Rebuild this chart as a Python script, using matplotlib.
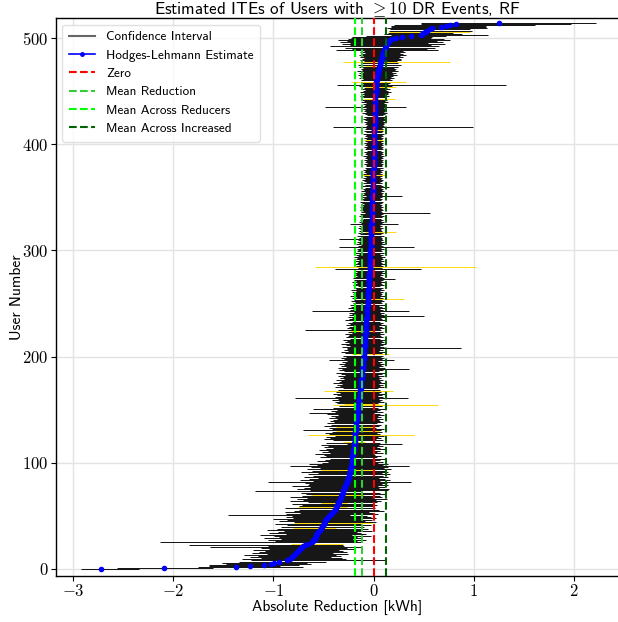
import numpy as np
import matplotlib
matplotlib.use("Agg")
import matplotlib.pyplot as plt
from matplotlib.lines import Line2D

plt.rcParams['font.family'] = ['cmss10', 'DejaVu Sans']
plt.rcParams['mathtext.fontset'] = 'cm'
plt.rcParams['axes.unicode_minus'] = False
plt.rcParams['axes.formatter.use_mathtext'] = True

# Hodges-Lehmann estimates (sorted), one per user
hl_est = [
    -2.72, -2.09, -1.37, -1.23, -1.09, -1.02, -0.99, -0.94, -0.86, -0.83,
    -0.82, -0.81, -0.80, -0.79, -0.78, -0.77, -0.76, -0.75, -0.74, -0.73,
    -0.72, -0.71, -0.70, -0.68, -0.65, -0.61, -0.60, -0.60, -0.59, -0.59,
    -0.58, -0.58, -0.58, -0.57, -0.57, -0.56, -0.55, -0.54, -0.53, -0.53,
    -0.52, -0.51, -0.50, -0.50, -0.49, -0.49, -0.48, -0.48, -0.47, -0.46,
    -0.45, -0.44, -0.43, -0.42, -0.41, -0.40, -0.39, -0.38, -0.38, -0.37,
    -0.37, -0.36, -0.36, -0.35, -0.35, -0.34, -0.34, -0.33, -0.33, -0.33,
    -0.32, -0.32, -0.31, -0.31, -0.31, -0.30, -0.30, -0.29, -0.29, -0.28,
    -0.28, -0.27, -0.27, -0.27, -0.26, -0.26, -0.26, -0.25, -0.25, -0.25,
    -0.24, -0.24, -0.24, -0.24, -0.23, -0.23, -0.23, -0.23, -0.22, -0.22,
    -0.220, -0.218, -0.217, -0.215, -0.214, -0.212, -0.211, -0.209, -0.208, -0.206,
    -0.205, -0.203, -0.202, -0.200, -0.199, -0.197, -0.196, -0.194, -0.193, -0.191,
    -0.190, -0.189, -0.188, -0.187, -0.186, -0.185, -0.184, -0.183, -0.182, -0.181,
    -0.180, -0.179, -0.178, -0.177, -0.176, -0.175, -0.174, -0.173, -0.172, -0.171,
    -0.170, -0.169, -0.168, -0.166, -0.165, -0.163, -0.162, -0.160, -0.159, -0.157,
    -0.156, -0.155, -0.153, -0.152, -0.150, -0.149, -0.148, -0.146, -0.145, -0.144,
    -0.143, -0.142, -0.140, -0.139, -0.138, -0.137, -0.135, -0.134, -0.133, -0.132,
    -0.130, -0.129, -0.128, -0.127, -0.125, -0.124, -0.123, -0.122, -0.121, -0.119,
    -0.118, -0.117, -0.116, -0.115, -0.114, -0.113, -0.112, -0.111, -0.110, -0.109,
    -0.108, -0.107, -0.106, -0.105, -0.104, -0.103, -0.102, -0.101, -0.100, -0.099,
    -0.098, -0.097, -0.096, -0.095, -0.095, -0.094, -0.093, -0.092, -0.091, -0.091,
    -0.090, -0.089, -0.088, -0.087, -0.087, -0.086, -0.085, -0.084, -0.083, -0.083,
    -0.082, -0.081, -0.080, -0.080, -0.079, -0.078, -0.077, -0.077, -0.076, -0.075,
    -0.074, -0.074, -0.073, -0.072, -0.071, -0.071, -0.070, -0.069, -0.068, -0.068,
    -0.067, -0.066, -0.065, -0.065, -0.064, -0.063, -0.062, -0.062, -0.061, -0.060,
    -0.059, -0.059, -0.058, -0.057, -0.057, -0.056, -0.055, -0.055, -0.054, -0.053,
    -0.053, -0.052, -0.051, -0.051, -0.050, -0.049, -0.049, -0.048, -0.047, -0.047,
    -0.046, -0.045, -0.045, -0.044, -0.043, -0.043, -0.042, -0.042, -0.041, -0.040,
    -0.040, -0.039, -0.039, -0.038, -0.038, -0.037, -0.037, -0.036, -0.036, -0.035,
    -0.035, -0.035, -0.034, -0.034, -0.033, -0.033, -0.032, -0.032, -0.032, -0.031,
    -0.031, -0.030, -0.030, -0.029, -0.029, -0.029, -0.028, -0.028, -0.027, -0.027,
    -0.027, -0.026, -0.026, -0.025, -0.025, -0.025, -0.024, -0.024, -0.023, -0.023,
    -0.023, -0.022, -0.022, -0.021, -0.021, -0.021, -0.020, -0.020, -0.020, -0.019,
    -0.019, -0.019, -0.018, -0.018, -0.018, -0.017, -0.017, -0.017, -0.016, -0.016,
    -0.016, -0.015, -0.015, -0.015, -0.014, -0.014, -0.013, -0.013, -0.013, -0.012,
    -0.012, -0.011, -0.011, -0.010, -0.010, -0.010, -0.009, -0.009, -0.008, -0.008,
    -0.008, -0.007, -0.007, -0.006, -0.006, -0.005, -0.005, -0.005, -0.004, -0.004,
    -0.003, -0.003, -0.003, -0.002, -0.002, -0.001, -0.001, -0.001, 0.000, 0.000,
    0.000, 0.001, 0.001, 0.001, 0.001, 0.002, 0.002, 0.002, 0.002, 0.003,
    0.003, 0.003, 0.003, 0.004, 0.004, 0.004, 0.004, 0.005, 0.005, 0.005,
    0.005, 0.006, 0.006, 0.006, 0.006, 0.007, 0.007, 0.007, 0.007, 0.008,
    0.008, 0.008, 0.008, 0.009, 0.009, 0.009, 0.009, 0.010, 0.010, 0.010,
    0.010, 0.011, 0.011, 0.011, 0.011, 0.012, 0.012, 0.012, 0.012, 0.013,
    0.013, 0.013, 0.013, 0.014, 0.014, 0.014, 0.015, 0.015, 0.015, 0.016,
    0.016, 0.016, 0.017, 0.017, 0.018, 0.018, 0.019, 0.019, 0.020, 0.020,
    0.021, 0.022, 0.022, 0.023, 0.024, 0.025, 0.026, 0.027, 0.028, 0.029,
    0.030, 0.032, 0.034, 0.036, 0.038, 0.040, 0.042, 0.044, 0.046, 0.048,
    0.050, 0.053, 0.056, 0.059, 0.062, 0.065, 0.068, 0.071, 0.074, 0.077,
    0.080, 0.083, 0.085, 0.088, 0.090, 0.093, 0.095, 0.098, 0.102, 0.106,
    0.110, 0.115, 0.120, 0.126, 0.132, 0.140, 0.148, 0.157, 0.167, 0.180,
    0.22, 0.28, 0.37, 0.47, 0.48, 0.49, 0.51, 0.53, 0.56, 0.58,
    0.67, 0.72, 0.76, 0.82, 1.25,
]

# distance from estimate down to the lower CI bound
ci_lo_dist = [
    0.20, 0.47, 0.38, 0.41, 0.55, 0.45, 0.52, 0.40, 0.36, 0.48, 0.30, 0.42, 0.35, 0.50, 0.28, 0.44, 0.38, 0.33, 0.46, 0.31,
    0.40, 0.92, 0.35, 1.16, 0.17, 1.52, 0.38, 0.45, 0.33, 0.50, 0.36, 0.41, 0.55, 0.30, 0.47, 0.39, 0.34, 0.52, 0.43, 0.27,
    0.40, 0.35, 0.48, 0.29, 0.30, 0.45, 0.38, 0.52, 0.33, 0.41, 0.36, 1.01, 0.44, 0.31, 0.47, 0.39, 0.35, 0.50, 0.37, 0.37,
    0.34, 0.45, 0.17, 0.30, 0.48, 0.36, 0.42, 0.33, 0.50, 0.38, 0.30, 0.35, 0.41, 0.87, 0.32, 0.46, 0.39, 0.34, 0.52, 0.37,
    0.36, 0.41, 0.78, 0.33, 0.47, 0.38, 0.30, 0.44, 0.35, 0.40, 0.32, 0.48, 0.37, 0.29, 0.43, 0.31, 0.39, 0.60, 0.35, 0.42,
    0.30, 0.24, 0.35, 0.27, 0.22, 0.32, 0.26, 0.29, 0.38, 0.23, 0.31, 0.25, 0.34, 0.28, 0.21, 0.30, 0.26, 0.33, 0.07, 0.28,
    0.12, 0.22, 0.31, 0.25, 0.29, 0.20, 0.47, 0.26, 0.30, 0.23, 0.20, 0.53, 0.24, 0.27, 0.20, 0.32, 0.25, 0.29, 0.22, 0.26,
    0.24, 0.20, 0.28, 0.22, 0.26, 0.19, 0.30, 0.48, 0.23, 0.27, 0.21, 0.45, 0.25, 0.19, 0.26, 0.15, 0.22, 0.24, 0.20, 0.27,
    0.21, 0.64, 0.25, 0.19, 0.23, 0.27, 0.20, 0.24, 0.36, 0.22, 0.18, 0.26, 0.21, 0.24, 0.19, 0.28, 0.22, 0.20, 0.25, 0.18,
    0.22, 0.19, 0.24, 0.17, 0.21, 0.26, 0.18, 0.23, 0.21, 0.25, 0.17, 0.22, 0.19, 0.24, 0.18, 0.21, 0.16, 0.34, 0.20, 0.23,
    0.18, 0.21, 0.12, 0.19, 0.23, 0.16, 0.20, 0.17, 0.17, 0.22, 0.15, 0.19, 0.24, 0.16, 0.20, 0.18, 0.22, 0.15, 0.19, 0.17,
    0.16, 0.20, 0.14, 0.18, 0.16, 0.61, 0.15, 0.19, 0.17, 0.13, 0.20, 0.16, 0.18, 0.14, 0.21, 0.17, 0.15, 0.19, 0.13, 0.18,
    0.15, 0.18, 0.13, 0.55, 0.17, 0.14, 0.19, 0.16, 0.12, 0.18, 0.15, 0.13, 0.17, 0.14, 0.07, 0.16, 0.12, 0.18, 0.14, 0.15,
    0.14, 0.16, 0.12, 0.17, 0.13, 0.15, 0.11, 0.16, 0.14, 0.12, 0.17, 0.13, 0.15, 0.01, 0.16, 0.14, 0.12, 0.15, 0.13, 0.16,
    0.13, 0.15, 0.35, 0.12, 0.55, 0.14, 0.11, 0.16, 0.13, 0.12, 0.15, 0.11, 0.14, 0.13, 0.16, 0.12, 0.14, 0.11, 0.15, 0.13,
    0.12, 0.14, 0.11, 0.32, 0.13, 0.10, 0.15, 0.12, 0.14, 0.11, 0.13, 0.32, 0.12, 0.10, 0.14, 0.11, 0.13, 0.06, 0.12, 0.10,
    0.11, 0.13, 0.10, 0.12, 0.09, 0.21, 0.11, 0.13, 0.10, 0.12, 0.09, 0.11, 0.13, 0.10, 0.12, 0.07, 0.11, 0.09, 0.12, 0.10,
    0.10, 0.12, 0.09, 0.11, 0.08, 0.10, 0.12, 0.09, 0.11, 0.08, 0.10, 0.06, 0.11, 0.09, 0.10, 0.08, 0.12, 0.09, 0.10, 0.08,
    0.03, 0.11, 0.08, 0.10, 0.07, 0.09, 0.11, 0.08, 0.10, 0.07, 0.09, 0.12, 0.10, 0.07, 0.09, 0.08, 0.10, 0.07, 0.09, 0.08,
    0.08, 0.10, 0.07, 0.09, 0.08, 0.10, 0.07, 0.09, 0.08, 0.11, 0.07, 0.09, 0.08, 0.10, 0.07, 0.09, 0.08, 0.10, 0.07, 0.09,
    0.08, 0.10, 0.07, 0.09, 0.10, 0.08, 0.10, 0.07, 0.09, 0.08, 0.11, 0.08, 0.10, 0.03, 0.09, 0.08, 0.41, 0.09, 0.08, 0.10,
    0.09, 0.11, 0.08, 0.10, 0.12, 0.09, 0.11, 0.08, 0.10, 0.13, 0.09, 0.11, 0.10, 0.12, 0.09, 0.50, 0.11, 0.10, 0.12, 0.09,
    0.14, 0.11, 0.13, 0.11, 0.12, 0.15, 0.11, 0.14, 0.12, 0.16, 0.13, 0.11, 0.15, 0.12, 0.11, 0.17, 0.39, 0.13, 0.15, 0.25,
    0.16, 0.14, 0.18, 0.15, 0.17, 0.20, 0.16, 0.19, 0.15, 0.21, 0.17, 0.18, 0.16, 0.20, 0.15, 0.22, 0.19, 0.38, 0.17, 0.21,
    0.20, 0.18, 0.22, 0.19, 0.24, 0.21, 0.18, 0.23, 0.20, 0.48, 0.33, 0.40, 0.56, 0.36, 0.45, 0.38, 0.48, 0.42, 0.52, 0.44,
    0.45, 0.50, 0.45, 0.30, 0.38, 0.35, 0.36, 0.38, 0.40, 0.45, 0.50, 0.55, 0.56, 0.35, 0.78,
]

# distance from estimate up to the upper CI bound
ci_hi_dist = [
    0.38, 0.49, 0.67, 0.30, 0.35, 0.40, 0.33, 0.46, 0.97, 0.55, 0.50, 0.38, 0.47, 0.41, 0.52, 0.36, 0.49, 0.44, 0.39, 0.53,
    0.45, 0.58, 0.40, 0.37, 0.34, 0.48, 0.43, 0.52, 0.38, 0.46, 0.41, 0.55, 0.36, 0.49, 0.44, 0.39, 0.53, 0.42, 0.47, 0.15,
    0.42, 0.48, 0.37, 0.48, 0.51, 0.40, 0.46, 0.35, 0.49, 0.43, 0.38, 0.20, 0.47, 0.41, 0.36, 0.50, 0.44, 0.39, 0.11, 0.37,
    0.40, 0.35, 0.09, 0.38, 0.42, 0.36, 0.47, 0.33, 0.41, 0.39, 0.22, 0.43, 0.37, 0.18, 0.45, 0.45, 0.35, 0.40, 0.33, 0.42,
    0.36, 0.40, 0.64, 0.33, 0.42, 0.37, 0.31, 0.39, 0.34, 0.41, 0.32, 0.38, 0.35, 0.24, 0.40, 0.33, 0.37, 0.58, 0.31, 0.36,
    0.26, 0.31, 0.23, 0.28, 0.34, 0.25, 0.29, 0.22, 0.21, 0.30, 0.24, 0.27, 0.21, 0.32, 0.26, 0.23, 0.29, 0.25, 0.48, 0.26,
    0.10, 0.28, 0.21, 0.26, 0.23, 0.29, 0.59, 0.25, 0.22, 0.27, 0.23, 0.25, 0.28, 0.20, 0.18, 0.23, 0.25, 0.21, 0.27, 0.24,
    0.22, 0.26, 0.20, 0.24, 0.21, 0.27, 0.23, 0.16, 0.25, 0.19, 0.22, 0.28, 0.20, 0.24, 0.79, 0.20, 0.19, 0.25, 0.21, 0.23,
    0.20, 0.49, 0.23, 0.18, 0.22, 0.25, 0.19, 0.21, 0.33, 0.20, 0.17, 0.23, 0.19, 0.22, 0.18, 0.24, 0.20, 0.19, 0.22, 0.17,
    0.19, 0.17, 0.22, 0.16, 0.20, 0.23, 0.17, 0.21, 0.46, 0.22, 0.16, 0.20, 0.18, 0.21, 0.17, 0.19, 0.15, 0.31, 0.18, 0.20,
    0.17, 0.19, 0.25, 0.18, 0.21, 0.15, 0.19, 0.16, 0.96, 0.20, 0.15, 0.18, 0.21, 0.16, 0.19, 0.17, 0.20, 0.15, 0.18, 0.16,
    0.15, 0.19, 0.14, 0.17, 0.08, 0.15, 0.14, 0.18, 0.16, 0.13, 0.19, 0.15, 0.17, 0.14, 0.20, 0.16, 0.14, 0.18, 0.57, 0.17,
    0.14, 0.17, 0.13, 0.42, 0.16, 0.13, 0.18, 0.15, 0.12, 0.17, 0.14, 0.13, 0.16, 0.14, 0.36, 0.15, 0.12, 0.17, 0.13, 0.14,
    0.13, 0.15, 0.12, 0.16, 0.12, 0.14, 0.11, 0.15, 0.13, 0.12, 0.16, 0.12, 0.14, 0.26, 0.15, 0.13, 0.11, 0.14, 0.12, 0.15,
    0.12, 0.14, 0.51, 0.12, 1.06, 0.13, 0.11, 0.15, 0.12, 0.11, 0.14, 0.11, 0.13, 0.12, 0.15, 0.11, 0.13, 0.10, 0.14, 0.12,
    0.11, 0.13, 0.10, 0.43, 0.12, 0.10, 0.14, 0.11, 0.13, 0.10, 0.12, 0.11, 0.11, 0.10, 0.13, 0.10, 0.12, 0.25, 0.11, 0.10,
    0.10, 0.12, 0.09, 0.11, 0.09, 0.27, 0.10, 0.12, 0.09, 0.11, 0.09, 0.10, 0.12, 0.09, 0.11, 0.58, 0.10, 0.09, 0.11, 0.10,
    0.09, 0.11, 0.09, 0.10, 0.08, 0.10, 0.11, 0.09, 0.10, 0.08, 0.10, 0.30, 0.10, 0.09, 0.10, 0.08, 0.11, 0.09, 0.10, 0.08,
    0.16, 0.10, 0.08, 0.09, 0.07, 0.09, 0.10, 0.08, 0.09, 0.07, 0.09, 0.13, 0.09, 0.07, 0.09, 0.08, 0.10, 0.07, 0.09, 0.08,
    0.08, 0.09, 0.07, 0.09, 0.08, 0.09, 0.07, 0.09, 0.08, 0.10, 0.07, 0.09, 0.08, 0.09, 0.07, 0.09, 0.08, 0.09, 0.07, 0.09,
    0.08, 0.09, 0.07, 0.09, 0.09, 0.08, 0.09, 0.07, 0.09, 0.08, 0.10, 0.08, 0.09, 0.09, 0.09, 0.08, 0.98, 0.09, 0.08, 0.09,
    0.09, 0.10, 0.08, 0.10, 0.11, 0.09, 0.10, 0.08, 0.10, 0.12, 0.09, 0.11, 0.10, 0.11, 0.09, 0.31, 0.10, 0.10, 0.11, 0.09,
    0.13, 0.10, 0.12, 0.20, 0.11, 0.14, 0.10, 0.13, 0.12, 0.15, 0.12, 0.10, 0.14, 0.11, 0.20, 0.16, 1.30, 0.12, 0.14, 0.30,
    0.15, 0.13, 0.17, 0.14, 0.16, 0.19, 0.15, 0.18, 0.14, 0.20, 0.16, 0.17, 0.15, 0.19, 0.03, 0.21, 0.18, 0.69, 0.16, 0.20,
    0.19, 0.17, 0.21, 0.18, 0.23, 0.20, 0.17, 0.22, 0.19, 0.54, 0.42, 0.50, 0.53, 0.45, 0.58, 0.40, 0.55, 0.48, 0.60, 0.52,
    0.35, 0.30, 0.35, 0.67, 0.40, 0.30, 0.45, 0.45, 0.40, 0.55, 0.45, 0.40, 0.85, 1.15, 0.97,
]

# users whose interval is highlighted in gold
gold_users = [24, 39, 43, 58, 62, 70, 93, 120, 126, 130, 134, 154, 155, 168, 202,
              224, 254, 284, 317, 371, 404, 413, 443, 454, 459, 474, 477, 506]

mean_reduction = -0.116
mean_reducers = -0.183
mean_increased = 0.123

xticks = [-3, -2, -1, 0, 1, 2]
yticks = [0, 100, 200, 300, 400, 500]

hl = np.array(hl_est)
n = len(hl)
lo = hl - np.array(ci_lo_dist[:n])
hi = hl + np.array(ci_hi_dist[:n])
users = np.arange(n)
colors = ['black'] * n
for u in gold_users:
    colors[u] = 'gold'

W, H = 618, 622
fig = plt.figure(figsize=(W / 100, H / 100), dpi=100)
ax_left, ax_bottom_px, ax_top_px = 55.7, 576, 18
ax = fig.add_axes([ax_left / W, 1 - ax_bottom_px / H, 1 - ax_left / W + 0.002,
                   (ax_bottom_px - ax_top_px) / H])

ax.grid(True, color='#e3e3e3', linewidth=1.0, zorder=0)
ax.set_axisbelow(True)

ax.hlines(users, lo, hi, colors=colors, linewidth=0.65, zorder=2)
ax.plot(hl, users, linestyle='none', marker='.', color='blue', markersize=6, zorder=3)

ax.axvline(0, color='red', linestyle='--', linewidth=1.5, zorder=4)
ax.axvline(mean_reduction, color='limegreen', linestyle='--', linewidth=1.5, zorder=4)
ax.axvline(mean_reducers, color='lime', linestyle='--', linewidth=1.5, zorder=4)
ax.axvline(mean_increased, color='darkgreen', linestyle='--', linewidth=1.5, zorder=4)

ax.set_xlim(-3.176, 2.455)
ax.set_ylim(-6.6, 518.8)
ax.set_xticks(xticks)
ax.set_xticklabels([f'$-{abs(t)}$' if t < 0 else f'${t}$' for t in xticks], fontsize=12)
ax.set_yticks(yticks)
ax.set_yticklabels([f'${t}$' for t in yticks], fontsize=12)
ax.tick_params(direction='out', length=3.5, width=0.8, color='black', pad=1.5)

for s in ['left', 'bottom', 'top']:
    ax.spines[s].set_color('black')
    ax.spines[s].set_linewidth(1.0)
ax.spines['right'].set_visible(False)

fig.text((ax_left + W) / 2 / W, 1 - 9.5 / H,
         r'Estimated ITEs of Users with $\geq 10$ DR Events, RF',
         fontsize=12.3, ha='center', va='center')
ax.set_xlabel('Absolute Reduction [kWh]', fontsize=11.2)
ax.xaxis.set_label_coords(0.5, -(607 - ax_bottom_px) / (ax_bottom_px - ax_top_px))
ax.xaxis.label.set_verticalalignment('center')
ax.set_ylabel('User Number', fontsize=11.2)
ax.yaxis.set_label_coords(-(ax_left - 17) / (W - ax_left), 0.5)
ax.yaxis.label.set_verticalalignment('center')

handles = [
    Line2D([0], [0], color='0.4', linewidth=1.5),
    Line2D([0], [0], color='blue', marker='.', markersize=5, linewidth=1.2),
    Line2D([0], [0], color='red', linestyle='--', linewidth=1.5),
    Line2D([0], [0], color='limegreen', linestyle='--', linewidth=1.5),
    Line2D([0], [0], color='lime', linestyle='--', linewidth=1.5),
    Line2D([0], [0], color='darkgreen', linestyle='--', linewidth=1.5),
]
labels = ['Confidence Interval', 'Hodges-Lehmann Estimate', 'Zero', 'Mean Reduction',
          'Mean Across Reducers', 'Mean Across Increased']
leg = ax.legend(handles, labels, loc='upper left', fontsize=9.5, frameon=True,
                framealpha=0.8, edgecolor='#d9d9d9', fancybox=True, borderpad=0.5,
                labelspacing=0.46, handlelength=2.0, handletextpad=0.8)

fig.savefig('out.png', dpi=100)
